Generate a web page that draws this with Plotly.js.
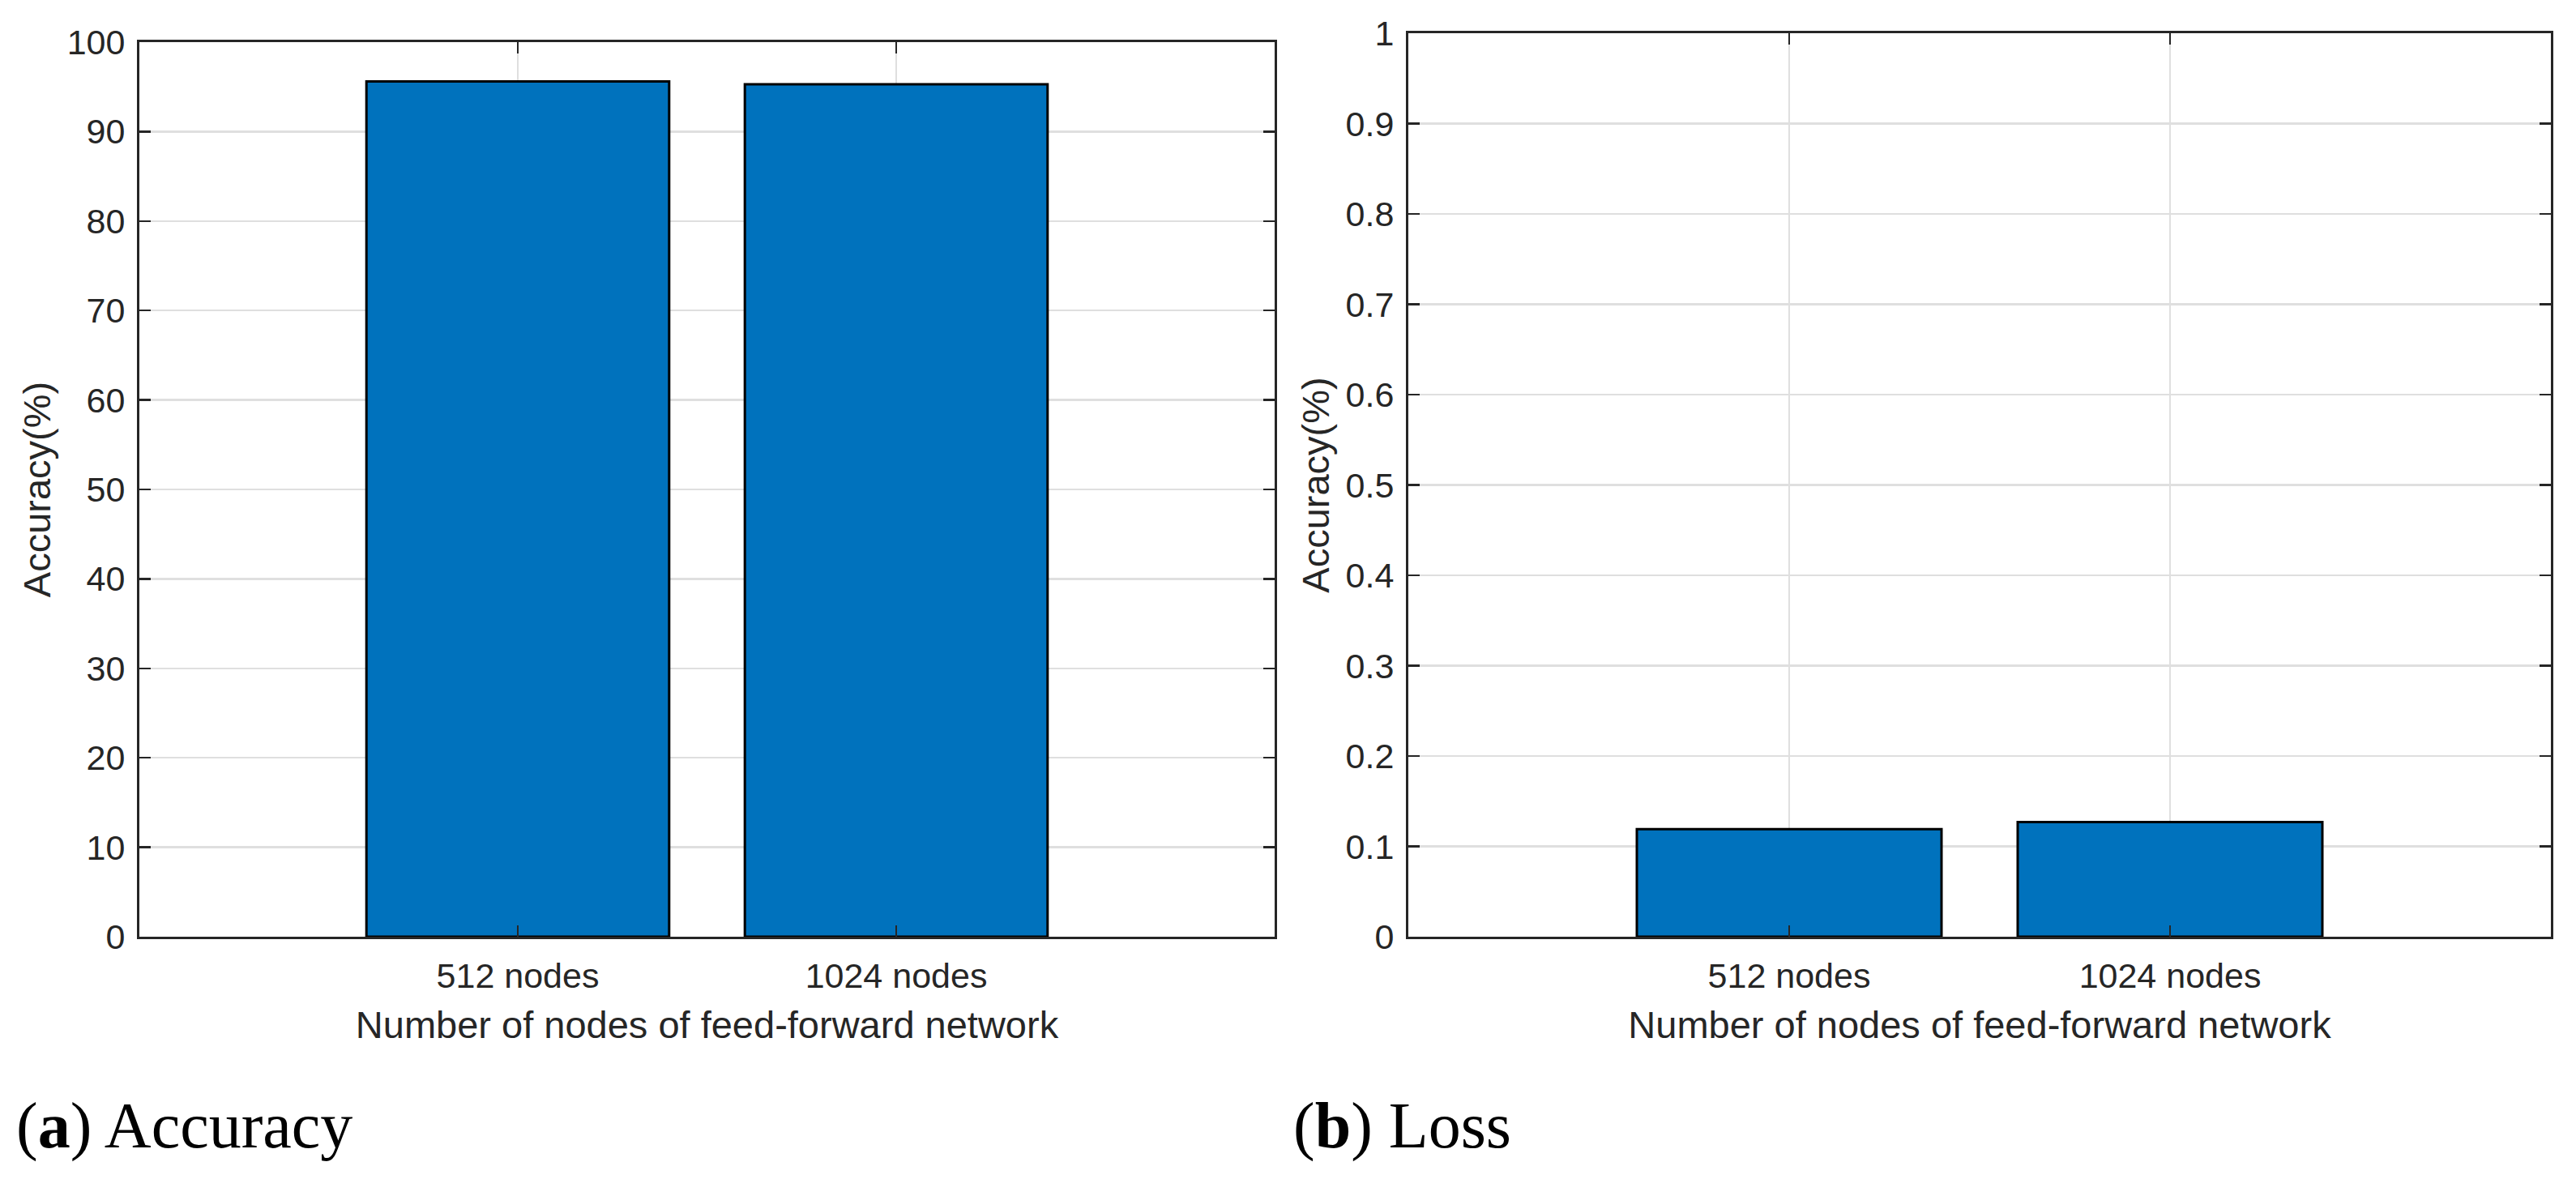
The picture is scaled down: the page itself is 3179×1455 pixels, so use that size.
<!DOCTYPE html>
<html>
<head>
<meta charset="utf-8">
<script src="https://cdn.plot.ly/plotly-3.0.1.min.js"></script>
<style>html,body{margin:0;padding:0;background:#fff;}#chart{width:3179px;height:1455px;}</style>
</head>
<body>
<div id="chart"></div>
<script>
// ---- data ----
const categories = ["512 nodes", "1024 nodes"];
const accuracyValues = [95.6, 95.3];
const lossValues = [0.119, 0.127];
const accuracyTicks = [0, 10, 20, 30, 40, 50, 60, 70, 80, 90, 100];
const lossTicks = [0, 0.1, 0.2, 0.3, 0.4, 0.5, 0.6, 0.7, 0.8, 0.9, 1];
const lossTickText = ["0", "0.1", "0.2", "0.3", "0.4", "0.5", "0.6", "0.7", "0.8", "0.9", "1"];
const xTitle = "Number of nodes of feed-forward network";
const yTitle = "Accuracy(%)";
const captionA = "(<b>a</b>) Accuracy";
const captionB = "(<b>b</b>) Loss";

const W = 3179, H = 1455;
const FONT = "Liberation Sans, Arial, Helvetica, sans-serif";
const TXT = "#262626";
const barColor = "#0072BD";

const barStyle = {
  type: "bar",
  width: 0.8,
  marker: { color: barColor, line: { color: "#000000", width: 3 } },
  hoverinfo: "skip",
  showlegend: false
};

const traces = [
  Object.assign({}, barStyle, { x: categories, y: accuracyValues, xaxis: "x", yaxis: "y" }),
  Object.assign({}, barStyle, { x: categories, y: lossValues, xaxis: "x2", yaxis: "y2" })
];

function xAxis(domain, anchor) {
  return {
    domain: domain, anchor: anchor, type: "category",
    range: [-1, 2], autorange: false,
    showline: true, linecolor: TXT, linewidth: 3, mirror: "ticks",
    ticks: "inside", ticklen: 14, tickwidth: 2.5, tickcolor: TXT,
    showgrid: true, gridcolor: "#dfdfdf", gridwidth: 2.5,
    zeroline: false,
    tickfont: { family: FONT, size: 43, color: TXT },
    ticklabelstandoff: 8,
    title: { text: xTitle, font: { family: FONT, size: 47, color: TXT }, standoff: 22 },
    automargin: false, fixedrange: true
  };
}
function yAxis(domain, anchor, range, tickvals, ticktext) {
  const a = {
    domain: domain, anchor: anchor, range: range, autorange: false,
    tickmode: "array", tickvals: tickvals,
    showline: true, linecolor: TXT, linewidth: 3, mirror: "ticks",
    ticks: "inside", ticklen: 14, tickwidth: 2.5, tickcolor: TXT,
    showgrid: true, gridcolor: "#dfdfdf", gridwidth: 2.5,
    zeroline: false,
    tickfont: { family: FONT, size: 43, color: TXT },
    ticklabelstandoff: 6,
    title: { text: yTitle, font: { family: FONT, size: 47, color: TXT }, standoff: 6 },
    automargin: false, fixedrange: true
  };
  if (ticktext) a.ticktext = ticktext;
  return a;
}

const yBottom = 1 - 1156 / H;
const layout = {
  width: W, height: H,
  margin: { l: 0, r: 0, t: 0, b: 0, pad: 0 },
  paper_bgcolor: "#ffffff", plot_bgcolor: "#ffffff",
  showlegend: false,
  xaxis: xAxis([172 / W, 1573 / W], "y"),
  yaxis: yAxis([yBottom, 1 - 52 / H], "x", [0, 100], accuracyTicks, null),
  xaxis2: xAxis([1738 / W, 3148 / W], "y2"),
  yaxis2: yAxis([yBottom, 1 - 41 / H], "x2", [0, 1], lossTicks, lossTickText),
  annotations: [
    { text: captionA, xref: "paper", yref: "paper", x: 18 / W, y: 1 - 1389 / H,
      xanchor: "left", yanchor: "middle", showarrow: false,
      font: { family: "Liberation Serif, DejaVu Serif, serif", size: 80, color: "#000" } },
    { text: captionB, xref: "paper", yref: "paper", x: 1594 / W, y: 1 - 1389 / H,
      xanchor: "left", yanchor: "middle", showarrow: false,
      font: { family: "Liberation Serif, DejaVu Serif, serif", size: 80, color: "#000" } }
  ]
};

Plotly.newPlot("chart", traces, layout, { staticPlot: true, displayModeBar: false });
</script>
</body>
</html>
